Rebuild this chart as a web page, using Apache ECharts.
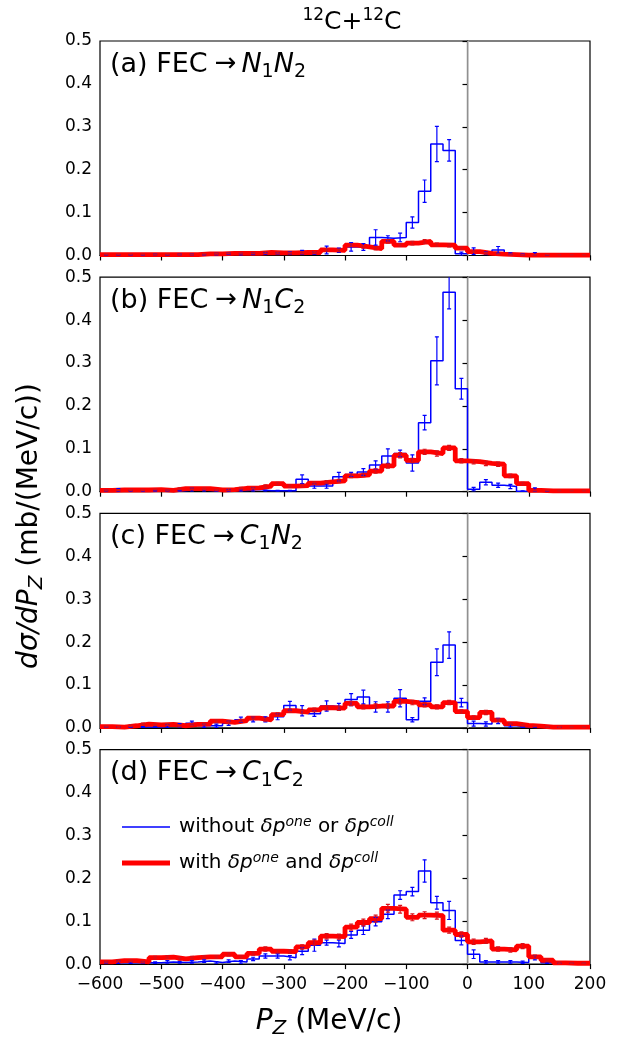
<!DOCTYPE html>
<html>
<head>
<meta charset="utf-8">
<script src="https://cdn.jsdelivr.net/npm/echarts@6/dist/echarts.min.js"></script>
<style>
html,body{margin:0;padding:0;background:#fff;}
#chart{width:626px;height:1042px;}
</style>
</head>
<body>
<div id="chart"></div>
<script>
// Bin edges (MeV/c), 20 MeV/c wide bins from -600 to 200
const binEdges = [-600,-580,-560,-540,-520,-500,-480,-460,-440,-420,-400,-380,-360,-340,-320,-300,-280,-260,-240,-220,-200,-180,-160,-140,-120,-100,-80,-60,-40,-20,0,20,40,60,80,100,120,140,160,180,200];
const xTicks = [-600,-500,-400,-300,-200,-100,0,100,200];
const yTicks = [0,0.1,0.2,0.3,0.4,0.5];

// Panel (a) FEC -> N1N2
const blueA = [0.001,0.001,0.001,0.001,0.002,0.001,0.002,0.002,0.002,0.003, 0.004,0.003,0.004,0.005,0.005,0.006,0.008,0.006,0.013,0.012, 0.020,0.020,0.042,0.040,0.042,0.077,0.150,0.260,0.245,0.004, 0.010,0.005,0.013,0.004,0.002,0.004,0.001,0,0,0];
const errBlueA = [0.001,0.001,0.001,0.001,0.001,0.001,0.001,0.001,0.001,0.002, 0.002,0.002,0.002,0.002,0.002,0.003,0.004,0.003,0.009,0.005, 0.010,0.008,0.018,0.006,0.010,0.013,0.026,0.041,0.025,0.004, 0.008,0.003,0.008,0.002,0.001,0.003,0.001,0,0,0];
const redA = [0.002,0.002,0.002,0.002,0.002,0.002,0.002,0.002,0.004,0.004, 0.005,0.005,0.005,0.007,0.006,0.006,0.007,0.007,0.013,0.012, 0.024,0.020,0.016,0.033,0.024,0.029,0.033,0.025,0.024,0.017, 0.009,0.005,0.003,0.002,0.001,0.001,0.001,0.001,0.001,0.001];
const errRedA = [0.001,0.001,0.001,0.001,0.001,0.001,0.001,0.001,0.001,0.001, 0.001,0.001,0.001,0.002,0.002,0.002,0.002,0.002,0.003,0.003, 0.003,0.003,0.003,0.004,0.003,0.004,0.004,0.004,0.004,0.003, 0.002,0.002,0.001,0.001,0.001,0.001,0.001,0.001,0.001,0.001];

// Panel (b) FEC -> N1C2
const blueB = [0.002,0.004,0.002,0.002,0.002,0.002,0.002,0.005,0.003,0.002, 0.003,0.003,0.005,0.002,0.002,0.002,0.029,0.013,0.013,0.035, 0.040,0.046,0.062,0.083,0.089,0.067,0.161,0.305,0.465,0.240, 0.006,0.022,0.015,0.012,0.001,0.005,0.001,0,0,0];
const errBlueB = [0.001,0.003,0.001,0.001,0.001,0.001,0.001,0.004,0.002,0.001, 0.002,0.002,0.004,0.001,0.001,0.001,0.010,0.005,0.005,0.010, 0.005,0.008,0.010,0.017,0.008,0.019,0.017,0.056,0.039,0.024, 0.004,0.006,0.005,0.005,0.001,0.004,0.001,0,0,0];
const redB = [0.003,0.004,0.004,0.004,0.005,0.003,0.007,0.007,0.007,0.004, 0.005,0.008,0.009,0.013,0.019,0.013,0.014,0.020,0.023,0.025, 0.037,0.039,0.048,0.060,0.085,0.073,0.093,0.089,0.102,0.072, 0.070,0.066,0.064,0.037,0.019,0.003,0.002,0.002,0.002,0.002];
const errRedB = [0.001,0.001,0.001,0.001,0.001,0.001,0.002,0.002,0.002,0.001, 0.002,0.002,0.002,0.003,0.003,0.003,0.003,0.003,0.003,0.004, 0.004,0.004,0.005,0.005,0.006,0.005,0.006,0.006,0.006,0.005, 0.005,0.005,0.005,0.004,0.003,0.001,0.001,0.001,0.001,0.001];

// Panel (c) FEC -> C1N2
const blueC = [0.002,0.002,0.002,0.002,0.002,0.004,0.006,0.011,0.005,0.005, 0.011,0.019,0.020,0.020,0.026,0.052,0.040,0.033,0.051,0.049, 0.066,0.072,0.049,0.049,0.069,0.019,0.062,0.153,0.193,0.059, 0.010,0.009,0.016,0.005,0.002,0.002,0.001,0.001,0,0];
const errBlueC = [0.001,0.001,0.001,0.001,0.001,0.003,0.004,0.005,0.004,0.004, 0.005,0.006,0.006,0.006,0.007,0.010,0.012,0.006,0.012,0.008, 0.014,0.016,0.012,0.012,0.020,0.005,0.008,0.031,0.031,0.010, 0.006,0.005,0.006,0.003,0.001,0.001,0.001,0.001,0,0];
const redC = [0.003,0.002,0.005,0.009,0.007,0.008,0.005,0.008,0.009,0.016, 0.013,0.017,0.023,0.019,0.031,0.040,0.037,0.042,0.047,0.046, 0.057,0.049,0.051,0.051,0.062,0.059,0.054,0.049,0.059,0.038, 0.024,0.036,0.018,0.010,0.006,0.004,0.002,0.002,0.002,0.002];
const errRedC = [0.001,0.001,0.002,0.002,0.002,0.002,0.002,0.002,0.002,0.003, 0.003,0.003,0.003,0.003,0.004,0.004,0.004,0.004,0.005,0.005, 0.005,0.005,0.005,0.005,0.006,0.005,0.005,0.005,0.005,0.004, 0.004,0.005,0.003,0.002,0.002,0.001,0.001,0.001,0.001,0.001];

// Panel (d) FEC -> C1C2
const blueD = [0.003,0.004,0.003,0.003,0.003,0.005,0.004,0.005,0.007,0.004, 0.007,0.005,0.012,0.019,0.019,0.015,0.030,0.044,0.050,0.048, 0.068,0.079,0.099,0.116,0.161,0.169,0.217,0.143,0.125,0.055, 0.023,0.005,0.005,0.005,0.004,0.015,0.003,0.001,0.001,0.001];
const errBlueD = [0.002,0.003,0.002,0.002,0.002,0.003,0.002,0.003,0.003,0.002, 0.003,0.003,0.004,0.005,0.005,0.005,0.008,0.014,0.006,0.008, 0.008,0.010,0.010,0.010,0.010,0.010,0.026,0.015,0.021,0.010, 0.010,0.003,0.003,0.003,0.003,0.005,0.002,0.001,0.001,0.001];
const redD = [0.005,0.008,0.008,0.005,0.015,0.016,0.012,0.015,0.017,0.017, 0.023,0.017,0.025,0.035,0.030,0.029,0.040,0.050,0.065,0.064, 0.086,0.097,0.106,0.130,0.128,0.109,0.114,0.113,0.079,0.069, 0.052,0.054,0.035,0.033,0.042,0.017,0.009,0.003,0.002,0.002];
const errRedD = [0.002,0.002,0.002,0.002,0.003,0.003,0.003,0.003,0.003,0.003, 0.004,0.003,0.004,0.005,0.004,0.004,0.005,0.006,0.006,0.006, 0.007,0.008,0.008,0.009,0.009,0.008,0.008,0.008,0.007,0.006, 0.006,0.006,0.005,0.005,0.006,0.004,0.003,0.002,0.001,0.001];

const panels = [
  {blue: blueA, eb: errBlueA, red: redA, er: errRedA, label: '{n|(a) FEC}{a|→}{i|N}{s|1}{i|N}{s|2}'},
  {blue: blueB, eb: errBlueB, red: redB, er: errRedB, label: '{n|(b) FEC}{a|→}{i|N}{s|1}{i|C}{s|2}'},
  {blue: blueC, eb: errBlueC, red: redC, er: errRedC, label: '{n|(c) FEC}{a|→}{i|C}{s|1}{i|N}{s|2}'},
  {blue: blueD, eb: errBlueD, red: redD, er: errRedD, label: '{n|(d) FEC}{a|→}{i|C}{s|1}{i|C}{s|2}'}
];

const FONT = 'DejaVu Sans';
const gridLeft = 100, gridRight = 36, gridH = 214.5;
const gridTops = [41, 277.2, 513.4, 749.6];

function stepData(vals) {
  return binEdges.map((x, i) => [x, vals[Math.min(i, vals.length - 1)]]);
}
function errData(vals, errs) {
  return vals.map((v, i) => [(binEdges[i] + binEdges[i + 1]) / 2, v, errs[i]]);
}
function errRender(color, lw) {
  return function (params, api) {
    const x = api.value(0), y = api.value(1), e = api.value(2);
    if (!(e > 0)) return null;
    const p1 = api.coord([x, y + e]);
    const p2 = api.coord([x, y - e]);
    const c = 2;
    const st = {stroke: color, lineWidth: lw};
    return {
      type: 'group',
      children: [
        {type: 'line', shape: {x1: p1[0], y1: p1[1], x2: p2[0], y2: p2[1]}, style: st},
        {type: 'line', shape: {x1: p1[0] - c, y1: p1[1], x2: p1[0] + c, y2: p1[1]}, style: st},
        {type: 'line', shape: {x1: p2[0] - c, y1: p2[1], x2: p2[0] + c, y2: p2[1]}, style: st}
      ]
    };
  };
}

const grids = [], xAxes = [], yAxes = [], series = [], graphics = [];
const labelRich = {
  n: {fontFamily: FONT, fontSize: 27, color: '#000', lineHeight: 34},
  a: {fontFamily: FONT, fontSize: 26, color: '#000', lineHeight: 34, padding: [0, 5, 0, 7]},
  i: {fontFamily: FONT, fontSize: 27, fontStyle: 'italic', color: '#000', lineHeight: 34},
  s: {fontFamily: FONT, fontSize: 19, color: '#000', verticalAlign: 'bottom', lineHeight: 20}
};

panels.forEach((p, k) => {
  grids.push({left: gridLeft, right: gridRight, top: gridTops[k], height: gridH,
    show: true, borderColor: '#000', borderWidth: 1.2, backgroundColor: 'transparent'});
  xAxes.push({
    type: 'value', gridIndex: k, min: xTicks[0], max: xTicks[xTicks.length - 1], interval: 100,
    axisLine: {show: true, onZero: false, lineStyle: {color: '#000', width: 1.2}},
    axisTick: {show: true, length: 5, lineStyle: {color: '#000', width: 1.2}},
    splitLine: {show: false},
    axisLabel: {show: k === 3, fontFamily: FONT, fontSize: 17, color: '#000', margin: 12,
      formatter: v => (v < 0 ? '\u2212' + Math.abs(v) : String(v))}
  });
  yAxes.push({
    type: 'value', gridIndex: k, min: yTicks[0], max: yTicks[yTicks.length - 1], interval: 0.1,
    axisLine: {show: true, lineStyle: {color: '#000', width: 1.2}},
    axisTick: {show: true, length: 5, lineStyle: {color: '#000', width: 1.2}},
    splitLine: {show: false},
    axisLabel: {fontFamily: FONT, fontSize: 17, color: '#000', margin: 8, formatter: v => v.toFixed(1)}
  });
  series.push({
    type: 'line', name: 'without', xAxisIndex: k, yAxisIndex: k, step: 'end',
    data: stepData(p.blue), symbol: 'none', showSymbol: false, clip: true,
    lineStyle: {color: '#0000ff', width: 1.5}, itemStyle: {color: '#0000ff'}, z: 3,
    markLine: {silent: true, symbol: 'none', label: {show: false},
      lineStyle: {color: '#c0c0c0', width: 1.5, type: 'solid'}, data: [{xAxis: 0}], z: 1}
  });
  series.push({
    type: 'line', name: 'with', xAxisIndex: k, yAxisIndex: k, step: 'end',
    data: stepData(p.red), symbol: 'none', showSymbol: false, clip: true,
    lineStyle: {color: '#ff0000', width: 4.8}, itemStyle: {color: '#ff0000'}, z: 4
  });
  series.push({
    type: 'custom', name: 'errBlue' + k, xAxisIndex: k, yAxisIndex: k, clip: true,
    renderItem: errRender('#0000ff', 1.2), data: errData(p.blue, p.eb), z: 5
  });
  series.push({
    type: 'custom', name: 'errRed' + k, xAxisIndex: k, yAxisIndex: k, clip: true,
    renderItem: errRender('#d8101a', 1.2), data: errData(p.red, p.er), z: 6
  });
  graphics.push({
    type: 'text', left: 110, top: gridTops[k] + 10, z: 10,
    style: {text: p.label, rich: labelRich}
  });
});

const axisTitleRich = {
  i: {fontFamily: FONT, fontSize: 28, fontStyle: 'italic', color: '#000', lineHeight: 34},
  s: {fontFamily: FONT, fontSize: 20, fontStyle: 'italic', color: '#000', verticalAlign: 'bottom', lineHeight: 22},
  n: {fontFamily: FONT, fontSize: 28, color: '#000', lineHeight: 34}
};

// y-axis label
graphics.push({
  type: 'text', x: 30, y: 526, rotation: Math.PI / 2, z: 10,
  style: {text: '{i|dσ/dP}{s|Z}{n| (mb/(MeV/c))}', align: 'center', verticalAlign: 'middle', rich: axisTitleRich}
});
// x-axis label
graphics.push({
  type: 'text', x: 329, y: 1022, z: 10,
  style: {text: '{i|P}{s|Z}{n| (MeV/c)}', align: 'center', verticalAlign: 'middle', rich: axisTitleRich}
});

const legendText = {
  'without': 'without {i|δp}{u|one} or {i|δp}{u|coll}',
  'with': 'with {i|δp}{u|one} and {i|δp}{u|coll}'
};

const option = {
  animation: false,
  backgroundColor: '#ffffff',
  title: {
    text: '{u|12}{n|C+}{u|12}{n|C}', left: 347, top: 2, textAlign: 'center',
    textStyle: {
      fontWeight: 'normal',
      rich: {
        n: {fontFamily: FONT, fontSize: 25, fontWeight: 'normal', color: '#000', lineHeight: 30},
        u: {fontFamily: FONT, fontSize: 17, fontWeight: 'normal', color: '#000', verticalAlign: 'top', lineHeight: 18}
      }
    }
  },
  legend: {
    data: [
      {name: 'without', icon: 'path://M0,0H48V1.5H0Z', itemStyle: {color: '#0000ff'}},
      {name: 'with', icon: 'path://M0,0H48V5H0Z', itemStyle: {color: '#ff0000'}}
    ],
    orient: 'vertical', left: 117, top: 810,
    itemWidth: 48, itemHeight: 14, itemGap: 14,
    formatter: n => legendText[n],
    textStyle: {
      fontFamily: FONT, fontSize: 20, color: '#000', padding: [0, 0, 0, 4],
      rich: {
        i: {fontFamily: FONT, fontSize: 20, fontStyle: 'italic', color: '#000', lineHeight: 24},
        u: {fontFamily: FONT, fontSize: 14, fontStyle: 'italic', color: '#000', verticalAlign: 'top', lineHeight: 14}
      }
    }
  },
  grid: grids,
  xAxis: xAxes,
  yAxis: yAxes,
  series: series,
  graphic: graphics
};

const chart = echarts.init(document.getElementById('chart'), null, {renderer: 'canvas'});
chart.setOption(option);
</script>
</body>
</html>
